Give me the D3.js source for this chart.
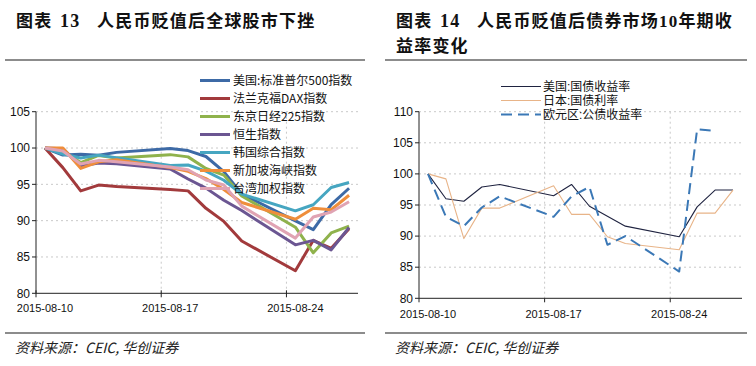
<!DOCTYPE html>
<html><head><meta charset="utf-8">
<script src="https://cdn.jsdelivr.net/npm/d3@7"></script>
<style>body{margin:0;background:#fff}svg{display:block}</style>
</head><body>
<svg id="c" width="756" height="366"></svg>
<script>
// ---------- data ----------
const dates = ["2015-08-10","2015-08-11","2015-08-12","2015-08-13","2015-08-14","2015-08-15","2015-08-16",
  "2015-08-17","2015-08-18","2015-08-19","2015-08-20","2015-08-21","2015-08-22","2015-08-23",
  "2015-08-24","2015-08-25","2015-08-26","2015-08-27"];
const xTickDates = ["2015-08-10","2015-08-17","2015-08-24"];

const stockNames = ["美国:标准普尔500指数","法兰克福DAX指数","东京日经225指数","恒生指数","韩国综合指数","新加坡海峡指数","台湾加权指数"];
const spx   = [100,99.04,99.14,99.01,99.40,null,null,99.92,99.65,98.83,96.75,93.67,null,null,89.97,88.76,92.22,94.46];
const dax   = [100,97.3,94.1,94.9,94.7,null,null,94.3,94.1,91.7,89.9,87.2,null,null,83.1,87.3,86.2,88.9];
const nikkei= [100,99.58,98.0,98.98,98.61,null,null,99.09,98.78,97.18,96.28,93.40,null,null,89.10,85.57,88.31,89.26];
const hsi   = [100,99.91,97.53,97.95,97.84,null,null,97.12,95.73,94.48,92.81,91.39,null,null,86.67,87.29,85.97,89.06];
const kospi = [100,99.18,98.62,99.02,null,null,null,97.61,97.66,96.82,95.56,93.66,null,null,91.35,92.19,94.56,95.25];
const sti   = [100,100,97.2,98.1,98.4,null,null,97.3,96.8,95.8,94.3,92.5,null,null,90.2,91.7,91.5,93.5];
const taiex = [100,99.6,97.8,98.3,98.1,null,null,97.4,97.0,95.6,94.9,92.0,null,null,87.6,90.5,91.2,92.6];
const stockColors = ["#3d6aa6","#a23a3c","#8fb24c","#6b5692","#46a6c1","#ef8e3b","#e0a3b3"];
const stockYTicks = [80,85,90,95,100,105];

const bondNames = ["美国:国债收益率","日本:国债利率","欧元区:公债收益率"];
const usYield = [100,96.0,95.6,97.9,98.3,null,null,96.5,98.3,94.8,93.2,91.6,null,null,89.9,94.7,97.4,97.4];
const jpYield = [100,99.2,89.6,94.5,94.5,null,null,98.1,93.5,93.5,89.9,88.8,null,null,87.8,93.7,93.7,97.4];
const euYield = [100,93.1,91.6,94.6,96.4,null,null,93.1,96.4,97.9,88.6,90.0,null,null,84.3,107.2,106.9,null];
const bondYTicks = [80,85,90,95,100,105,110];

// ---------- drawing ----------
const svg = d3.select("#c");
const CJK = "'Noto Sans CJK SC','Noto Sans',sans-serif";
const LAT = "'Liberation Sans',Arial,sans-serif";
const LEGF = "'Liberation Sans','Noto Sans CJK SC',sans-serif";

function title(x0, lines, num, ruleX0, ruleX1){
  const t = svg.append("text").attr("x", x0).attr("y", 27)
    .attr("font-family", CJK).attr("font-weight","bold").attr("font-size",17)
    .attr("letter-spacing","1.2px").attr("fill","#111");
  t.append("tspan").text("图表");
  t.append("tspan").attr("x", x0+44).attr("font-family","'Liberation Serif',serif").attr("font-size",18).text(num);
  const main = t.append("tspan").attr("x", x0+81);
  lines[0].forEach(seg => {
    main.append("tspan").attr("font-family", /\d/.test(seg) ? "'Liberation Serif',serif" : CJK).text(seg);
  });
  if (lines[1]) {
    svg.append("text").attr("x", x0).attr("y", 52)
      .attr("font-family", CJK).attr("font-weight","bold").attr("font-size",17)
      .attr("letter-spacing","1.2px").attr("fill","#111").text(lines[1]);
  }
  svg.append("line").attr("x1",ruleX0).attr("x2",ruleX1).attr("y1",60).attr("y2",60)
    .attr("stroke","#666").attr("stroke-width",1.5);
  svg.append("line").attr("x1",ruleX0).attr("x2",ruleX1).attr("y1",333).attr("y2",333)
    .attr("stroke","#666").attr("stroke-width",1.5);
  svg.append("text").attr("x", x0-1).attr("y", 353).attr("font-family", CJK)
    .attr("font-style","italic").attr("font-size",14).attr("fill","#222")
    .text("资料来源：CEIC, 华创证券");
}

function panel(cfg){
  const x = d3.scaleBand().domain(dates).range(cfg.xr).paddingInner(0).paddingOuter(0);
  const y = d3.scaleLinear().domain(cfg.yd).range(cfg.yr);
  const cx = d => x(d) + x.bandwidth()/2;
  const g = svg.append("g");
  // gridlines
  g.selectAll(".hg").data(cfg.yTicks.filter(v => v !== cfg.yd[0])).join("line")
    .attr("x1", cfg.xr[0]).attr("x2", cfg.xr[1]).attr("y1", d=>y(d)).attr("y2", d=>y(d))
    .attr("stroke","#c9c9c9").attr("stroke-dasharray","2,3");
  g.selectAll(".vg").data(xTickDates.slice(1)).join("line")
    .attr("x1", d=>x(d)).attr("x2", d=>x(d)).attr("y1", cfg.yr[1]).attr("y2", cfg.yr[0])
    .attr("stroke","#c9c9c9").attr("stroke-dasharray","2,3");
  // axes
  g.append("line").attr("x1",cfg.xr[0]).attr("x2",cfg.xr[0]).attr("y1",cfg.yr[1]).attr("y2",cfg.yr[0])
    .attr("stroke","#222");
  g.append("line").attr("x1",cfg.xr[0]).attr("x2",cfg.xr[1]).attr("y1",cfg.yr[0]).attr("y2",cfg.yr[0])
    .attr("stroke","#222");
  g.selectAll(".yt").data(cfg.yTicks).join("line")
    .attr("x1", cfg.xr[0]-4).attr("x2", cfg.xr[0]).attr("y1", d=>y(d)).attr("y2", d=>y(d)).attr("stroke","#222");
  g.selectAll(".yl").data(cfg.yTicks).join("text")
    .attr("x", cfg.xr[0]-6).attr("y", d=>y(d)).attr("dy","0.35em").attr("text-anchor","end")
    .attr("font-family",LAT).attr("font-size",12).attr("fill","#111").text(d=>d);
  g.selectAll(".xt").data(xTickDates).join("line")
    .attr("x1", d=>x(d)).attr("x2", d=>x(d)).attr("y1", cfg.yr[0]-cfg.tickUp).attr("y2", cfg.yr[0]+4).attr("stroke","#222");
  g.selectAll(".xl").data(xTickDates).join("text")
    .attr("x", d=>cx(d)).attr("y", cfg.yr[0]+cfg.labelDy).attr("text-anchor","middle")
    .attr("font-family",LAT).attr("font-size",11).attr("fill","#111").text(d=>d);
  // series
  const line = d3.line().x(d=>cx(d.date)).y(d=>y(d.v));
  cfg.series.forEach((s,i) => {
    const pts = dates.map((d,j)=>({date:d, v:s.values[j]})).filter(p=>p.v!=null);
    g.append("path").datum(pts).attr("d", line).attr("fill","none")
      .attr("stroke", s.color).attr("stroke-width", s.width)
      .attr("stroke-dasharray", s.dash||null).attr("stroke-linejoin","round");
  });
  // legend
  const lg = g.append("g");
  cfg.series.forEach((s,i) => {
    const yy = cfg.leg.y0 + i*cfg.leg.dy;
    lg.append("line").attr("x1",cfg.leg.x0).attr("x2",cfg.leg.x1).attr("y1",yy).attr("y2",yy)
      .attr("stroke",s.color).attr("stroke-width",s.width).attr("stroke-dasharray", s.dash||null);
    lg.append("text").attr("x",cfg.leg.tx).attr("y",yy).attr("dy","0.36em")
      .attr("font-family",cfg.leg.font).attr("font-size",cfg.leg.size).attr("fill","#111").text(s.name);
  });
}

title(16, [["人民币贬值后全球股市下挫"]], "13", 5, 365);
title(396, [["人民币贬值后债券市场","10","年期收"], "益率变化"], "14", 385, 747);

const stockVals = [spx,dax,nikkei,hsi,kospi,sti,taiex];
panel({
  xr:[36,358], yd:[80,105], yr:[293.3,111.7], yTicks: stockYTicks, tickUp:3, labelDy:19,
  series: stockNames.map((n,i)=>({name:n, values:stockVals[i], color:stockColors[i], width:3})),
  leg:{x0:200, x1:230, tx:233, y0:80.5, dy:18, font:CJK, size:12}
});
panel({
  xr:[419,742], yd:[80,110], yr:[298.3,111.7], yTicks: bondYTicks, tickUp:0, labelDy:20,
  series:[
    {name:bondNames[0], values:usYield, color:"#1f2340", width:1.1},
    {name:bondNames[1], values:jpYield, color:"#e8b488", width:1.1},
    {name:bondNames[2], values:euYield, color:"#3b78b6", width:2, dash:"11,6"}
  ],
  leg:{x0:501, x1:541, tx:543, y0:86.5, dy:14, font:LEGF, size:12}
});
</script>
</body></html>
